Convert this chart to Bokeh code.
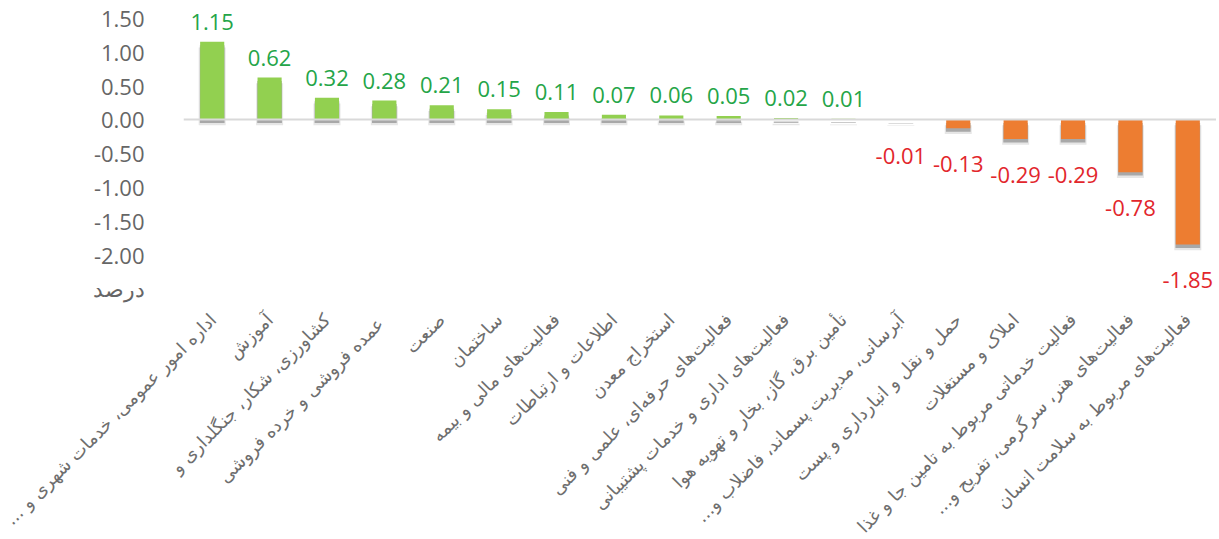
from math import pi
from bokeh.plotting import figure
from bokeh.models import ColumnDataSource, FactorRange, Range1d, Span, FixedTicker, NumeralTickFormatter
from bokeh.core.properties import value
from bokeh.embed import file_html
from bokeh.resources import INLINE

RLM = "\u200F"
# ---- data ----
categories = [
    "اداره امور عمومی، خدمات شهری و ..." + RLM,
    "آموزش",
    "کشاورزی، شکار، جنگلداری و",
    "عمده فروشی  و خرده فروشی",
    "صنعت",
    "ساختمان",
    "فعالیت\u200cهای مالی و بیمه",
    "اطلاعات و ارتباطات",
    "استخراج معدن",
    "فعالیت\u200cهای حرفه\u200cای، علمی و فنی",
    "فعالیت\u200cهای اداری و خدمات پشتیبانی",
    "تأمین برق، گاز، بخار و تهویه هوا",
    "آبرسانی، مدیریت پسماند، فاضلاب و..." + RLM,
    "حمل و نقل و انبارداری و پست",
    "املاک و مستغلات",
    "فعالیت خدماتی مربوط به تامین جا و غذا",
    "فعالیت\u200cهای هنر، سرگرمی، تفریح و..." + RLM,
    "فعالیت\u200cهای مربوط به سلامت انسان",
]
values = [1.15, 0.62, 0.32, 0.28, 0.21, 0.15, 0.11, 0.07, 0.06, 0.05, 0.02, 0.01,
          -0.01, -0.13, -0.29, -0.29, -0.78, -1.85]
y_ticks = [-2.5, -2.0, -1.5, -1.0, -0.5, 0.0, 0.5, 1.0, 1.5]
unit_label = "درصد"

GREEN = "#92D050"
ORANGE = "#ED7D31"
GREEN_TXT = "#24A548"
RED_TXT = "#E2262C"

shadow_off = 0.085
src = ColumnDataSource(dict(
    cat=categories,
    val=values,
    top=[max(v, 0) for v in values],
    bottom=[min(v, 0) for v in values],
    stop=[max(v, 0) - shadow_off for v in values],
    sbottom=[min(v, 0) - shadow_off for v in values],
    stop2=[max(v, 0) - shadow_off * 0.6 for v in values],
    sbottom2=[min(v, 0) - shadow_off * 0.6 for v in values],
    color=[GREEN if v >= 0 else ORANGE for v in values],
))

pos_src = ColumnDataSource(dict(
    cat=[c for c, v in zip(categories, values) if v >= 0],
    val=[v for v in values if v >= 0],
    txt=[f"{v:.2f}" for v in values if v >= 0],
))
neg_src = ColumnDataSource(dict(
    cat=[c for c, v in zip(categories, values) if v < 0],
    val=[v for v in values if v < 0],
    txt=[f"{v:.2f}" for v in values if v < 0],
))

p = figure(
    x_range=FactorRange(*categories, range_padding=0),
    y_range=Range1d(-2.62, 1.76),
    frame_width=1033, frame_height=296,
    min_border_left=183, min_border_right=0, min_border_top=0, min_border_bottom=0,
    output_backend="svg", toolbar_location=None,
)
p.x_range.factor_padding = 0
p.outline_line_color = None
p.xgrid.grid_line_color = None
p.ygrid.grid_line_color = None
p.background_fill_color = "white"
p.border_fill_color = "white"

# soft shadows
p.vbar(x="cat", top="stop", bottom="sbottom", width=0.47, source=src,
       fill_color="#555555", fill_alpha=0.15, line_color=None)
p.vbar(x="cat", top="stop2", bottom="sbottom2", width=0.43, source=src,
       fill_color="#333333", fill_alpha=0.35, line_color=None)
# bars
p.vbar(x="cat", top="top", bottom="bottom", width=0.42, source=src,
       fill_color="color", line_color=None)

p.add_layout(Span(location=0, dimension="width", line_color="#d9d9d9", line_width=2))

p.text(x="cat", y="val", text="txt", source=pos_src, text_align="center",
       text_baseline="bottom", y_offset=-12, text_color=GREEN_TXT,
       text_font=value("Open Sans"), text_font_size="22px")
p.text(x="cat", y="val", text="txt", source=neg_src, text_align="center",
       text_baseline="top", y_offset=28, text_color=RED_TXT,
       text_font=value("Open Sans"), text_font_size="22px")

# y axis
p.yaxis.ticker = FixedTicker(ticks=y_ticks)
p.yaxis.formatter = NumeralTickFormatter(format="0.00")
p.yaxis.major_label_overrides = {-2.5: unit_label}
p.yaxis.axis_line_color = None
p.yaxis.major_tick_line_color = None
p.yaxis.minor_tick_line_color = None
p.yaxis.major_label_standoff = 33
p.yaxis.major_label_text_font = "Open Sans"
p.yaxis.major_label_text_font_size = "22px"
p.yaxis.major_label_text_color = "#666666"

# x axis
p.xaxis.axis_line_color = None
p.xaxis.major_tick_line_color = None
p.xaxis.major_label_orientation = pi / 4
p.xaxis.major_label_standoff = 14
p.xaxis.major_label_text_font = "DejaVu Sans"
p.xaxis.major_label_text_font_size = "18px"
p.xaxis.major_label_text_color = "#6e6e6e"

open("out.html", "w").write(file_html(p, INLINE))
